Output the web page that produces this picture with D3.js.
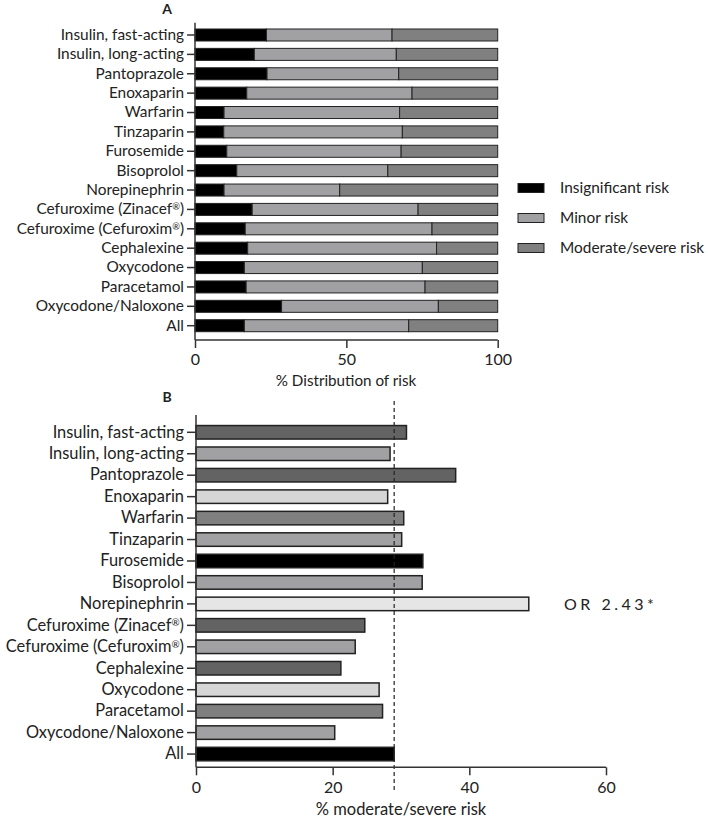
<!DOCTYPE html>
<html><head><meta charset="utf-8">
<script src="https://cdn.jsdelivr.net/npm/d3@7"></script>
<style>body{margin:0;background:#fff}svg{display:block}text{font-family:Lato,"Open Sans",sans-serif;fill:#222}</style>
</head><body><svg id="c" width="708" height="818"></svg>
<script>
const categories = ["Insulin, fast-acting","Insulin, long-acting","Pantoprazole","Enoxaparin","Warfarin","Tinzaparin","Furosemide","Bisoprolol","Norepinephrin","Cefuroxime (Zinacef®)","Cefuroxime (Cefuroxim®)","Cephalexine","Oxycodone","Paracetamol","Oxycodone/Naloxone","All"];
const insignificant = [23.6,19.6,23.8,17.1,9.6,9.5,10.5,13.8,9.6,18.9,16.6,17.4,16.3,16.9,28.6,16.3];
const minor =         [41.5,46.9,43.5,54.6,58.0,59.0,57.6,49.9,38.2,54.8,61.7,62.4,58.8,59.1,51.8,54.3];
const moderateSevere= [34.9,33.5,32.7,28.3,32.4,31.5,31.9,36.3,52.2,26.3,21.7,20.2,24.9,24.0,19.6,29.4];
const seriesNames = ["Insignificant risk","Minor risk","Moderate/severe risk"];
const pctModerate = [30.8,28.4,38.0,28.05,30.4,30.1,33.2,33.1,48.7,24.7,23.3,21.2,26.8,27.3,20.3,29.0];
const reference = 29.0;
const ticksA = [0,50,100];
const ticksB = [0,20,40,60];
const annotation = "OR 2.43*";

const svg = d3.select("#c");
const colA = ["#000000","#a1a1a4","#808080"];
const colB = ["#636363","#a1a1a4","#636363","#d6d6d6","#7f7f7f","#a1a1a4","#000000","#a1a1a4","#e6e6e6","#636363","#a1a1a4","#636363","#d6d6d6","#7f7f7f","#a1a1a4","#000000"];

function superReg(sel){
  sel.each(function(){
    const t = d3.select(this), s = t.text();
    if (s.indexOf("®")<0) return;
    const parts = s.split("®");
    t.text(null);
    t.append("tspan").text(parts[0]);
    t.append("tspan").attr("font-size","0.6em").attr("dy","-0.45em").text("®");
    t.append("tspan").attr("dy","0.27em").text(parts[1]);
  });
}

// ---------- Panel A ----------
const xA = d3.scaleLinear().domain([0,100]).range([195,497.7]);
const stepA = 19.38, padA = 0.38;
const yA = d3.scaleBand().domain(categories).range([35-stepA/2, 35-stepA/2+stepA*16]).paddingInner(padA).paddingOuter(padA/2);
const gA = svg.append("g");
const stackData = categories.map((c,i)=>({cat:c, v:[insignificant[i],minor[i],moderateSevere[i]]}));
stackData.forEach(d=>{
  let acc=0;
  d.v.forEach((v,k)=>{
    gA.append("rect").attr("x",xA(acc)).attr("y",yA(d.cat)).attr("width",xA(acc+v)-xA(acc)).attr("height",yA.bandwidth())
      .attr("fill",colA[k]).attr("stroke","#222").attr("stroke-width",1);
    acc+=v;
  });
});
const axYA = gA.append("g").attr("transform","translate(195,0)").call(d3.axisLeft(yA).tickSize(8).tickPadding(3));
axYA.select(".domain").attr("d","M0,22.7V340");
const axXA = gA.append("g").attr("transform","translate(0,340)").call(d3.axisBottom(xA).tickValues(ticksA).tickSize(8).tickPadding(6));
axXA.select(".domain").attr("d",`M${xA(0)},0H${xA(100)}`);
[axYA,axXA].forEach(a=>{a.selectAll("path,line").attr("stroke","#333").attr("stroke-width",1.5);a.selectAll("text").attr("fill","#222").style("font-family","Lato");});
axYA.selectAll("text").attr("font-size",15.4).call(superReg);
axXA.selectAll("text").attr("font-size",16);
gA.append("text").attr("x",346).attr("y",386).attr("text-anchor","middle").attr("font-size",15.2).text("% Distribution of risk");
gA.append("text").attr("x",167).attr("y",14).attr("text-anchor","middle").attr("font-size",14).attr("font-weight","bold").text("A");
// legend
const leg = svg.append("g");
seriesNames.forEach((n,k)=>{
  const cy = 188 + k*30;
  leg.append("rect").attr("x",518).attr("y",cy-4.5).attr("width",26).attr("height",9).attr("fill",colA[k]).attr("stroke","#222").attr("stroke-width",1);
  leg.append("text").attr("x",560).attr("y",cy).attr("dy","0.35em").attr("font-size",15.4).text(n);
});

// ---------- Panel B ----------
const xB = d3.scaleLinear().domain([0,60]).range([196,606]);
const stepB = 21.45, padB = 0.37;
const yB = d3.scaleBand().domain(categories).range([432.3-stepB/2, 432.3-stepB/2+stepB*16]).paddingInner(padB).paddingOuter(padB/2);
const gB = svg.append("g");
categories.forEach((c,i)=>{
  gB.append("rect").attr("x",xB(0)).attr("y",yB(c)).attr("width",xB(pctModerate[i])-xB(0)).attr("height",yB.bandwidth())
    .attr("fill",colB[i]).attr("stroke","#222").attr("stroke-width",1.5);
});
gB.append("line").attr("x1",xB(reference)).attr("x2",xB(reference)).attr("y1",401).attr("y2",792)
  .attr("stroke","#222").attr("stroke-width",1.2).attr("stroke-dasharray","4,3");
const axYB = gB.append("g").attr("transform","translate(196,0)").call(d3.axisLeft(yB).tickSize(9).tickPadding(3));
axYB.select(".domain").attr("d","M0,415V767.3");
const axXB = gB.append("g").attr("transform","translate(0,767.3)").call(d3.axisBottom(xB).tickValues(ticksB).tickSize(8).tickPadding(6));
axXB.select(".domain").attr("d",`M${xB(0)},0H${xB(60)}`);
[axYB,axXB].forEach(a=>{a.selectAll("path,line").attr("stroke","#333").attr("stroke-width",1.5);a.selectAll("text").attr("fill","#222").style("font-family","Lato");});
axYB.selectAll("text").attr("font-size",16.4).call(superReg);
axXB.selectAll("text").attr("font-size",16);
gB.append("text").attr("x",401).attr("y",815).attr("text-anchor","middle").attr("font-size",16.5).text("% moderate/severe risk");
gB.append("text").attr("x",167).attr("y",402).attr("text-anchor","middle").attr("font-size",14).attr("font-weight","bold").text("B");
gB.append("text").attr("x",564).attr("y",yB("Norepinephrin")+yB.bandwidth()/2).attr("dy","0.35em").attr("font-size",16).attr("letter-spacing","3.5px").text(annotation);
</script></body></html>
